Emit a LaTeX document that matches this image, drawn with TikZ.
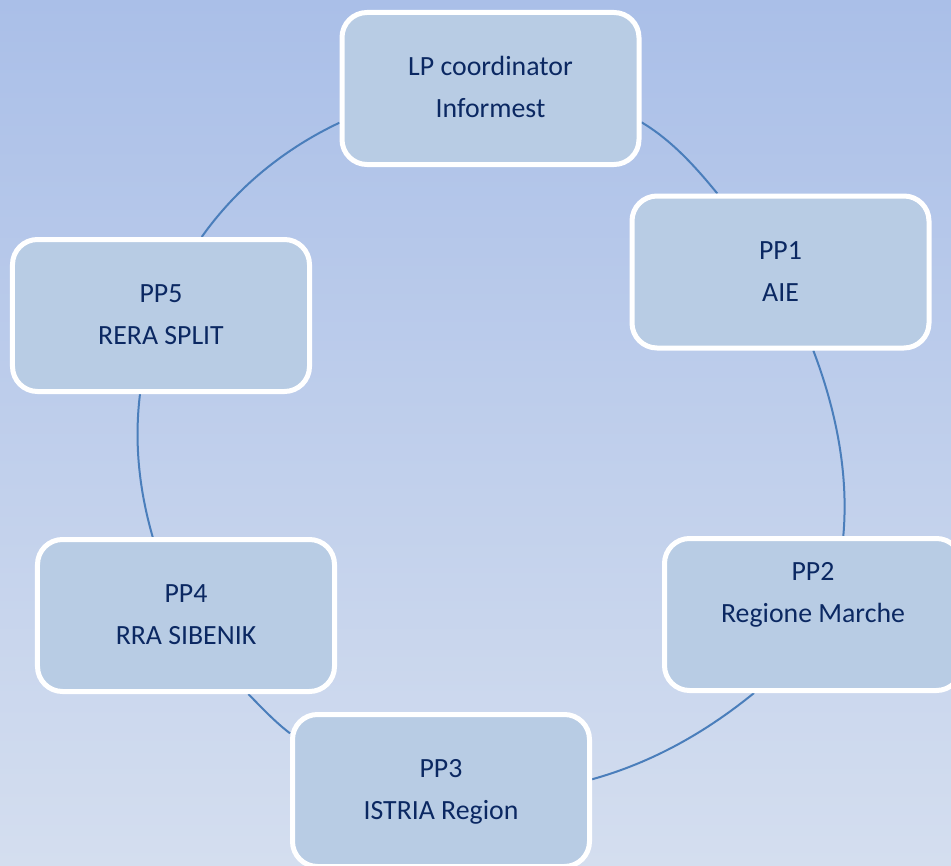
\documentclass[tikz,border=0pt]{standalone}
\usepackage{fontspec}
\setmainfont{Carlito}
\definecolor{bgtop}{HTML}{AABFE8}
\definecolor{bgbot}{HTML}{D4DEEF}
\definecolor{boxfill}{HTML}{B8CCE4}
\definecolor{txtcol}{HTML}{0B2862}
\definecolor{linecol}{HTML}{4A7EBB}
\pgfdeclarelayer{bglayer}
\pgfdeclarelayer{connlayer}
\pgfsetlayers{bglayer,connlayer,main}
\begin{document}
\begin{tikzpicture}[x=1bp,y=-1bp,
  pbox/.style={draw=white, line width=5bp, fill=boxfill, rounded corners=25bp,
    minimum width=297bp, minimum height=152bp, align=center, inner sep=0pt,
    text=txtcol, font=\fontsize{27.8bp}{42bp}\selectfont},
  conn/.style={draw=linecol, line width=2bp}]
\useasboundingbox (0,0) rectangle (951,866);
\begin{pgfonlayer}{bglayer}
\shade[top color=bgtop, bottom color=bgbot] (0,0) rectangle (951,866);
\end{pgfonlayer}

\node[pbox] (lp)  at (490.5,88.5)  {\strut LP coordinator\\\strut Informest};
\node[pbox] (pp1) at (780.5,272)   {\strut PP1\\\strut AIE};
\node[pbox] (pp2) at (813,614.5)   {\strut PP2\\\strut Regione Marche\\\strut};
\node[pbox] (pp3) at (441,790.5)   {\strut PP3\\\strut ISTRIA Region};
\node[pbox] (pp4) at (186,615.5)   {\strut PP4\\\strut RRA SIBENIK};
\node[pbox] (pp5) at (161,315.5)   {\strut PP5\\\strut RERA SPLIT};

% connector end points on the box borders (yshift is in canvas units: + is up)
\coordinate (a1) at ([yshift=-33.8bp]lp.east);
\coordinate (b1) at ([xshift=-63.2bp]pp1.north);
\coordinate (a2) at ([xshift=32.8bp]pp1.south);
\coordinate (b2) at ([xshift=30.3bp]pp2.north);
\coordinate (a3) at ([xshift=-59bp]pp2.south);
\coordinate (b3) at ([yshift=11.2bp]pp3.east);
\coordinate (a4) at ([yshift=57.2bp]pp3.west);
\coordinate (b4) at ([xshift=62.3bp]pp4.south);
\coordinate (a5) at ([xshift=-33.3bp]pp4.north);
\coordinate (b5) at ([xshift=-21bp]pp5.south);
\coordinate (a6) at ([xshift=40.7bp]pp5.north);
\coordinate (b6) at ([yshift=-34.2bp]lp.west);

\begin{pgfonlayer}{connlayer}
\draw[conn] (a1) .. controls (671,139.8) and (694.8,165.9) .. (b1);
\draw[conn] (a2) .. controls (835.5,408.6) and (849,473) .. (b2);
\draw[conn] (a3) .. controls (705.8,732.3) and (652.4,762.5) .. (b3);
\draw[conn] (b4) .. controls (262.3,708.3) and (275.7,722.5) .. (a4);
\draw[conn] (a5) .. controls (139.5,491.2) and (133.9,443.5) .. (b5);
\draw[conn] (a6) .. controls (236.7,187.5) and (284.7,148.5) .. (b6);
\end{pgfonlayer}
\end{tikzpicture}
\end{document}
